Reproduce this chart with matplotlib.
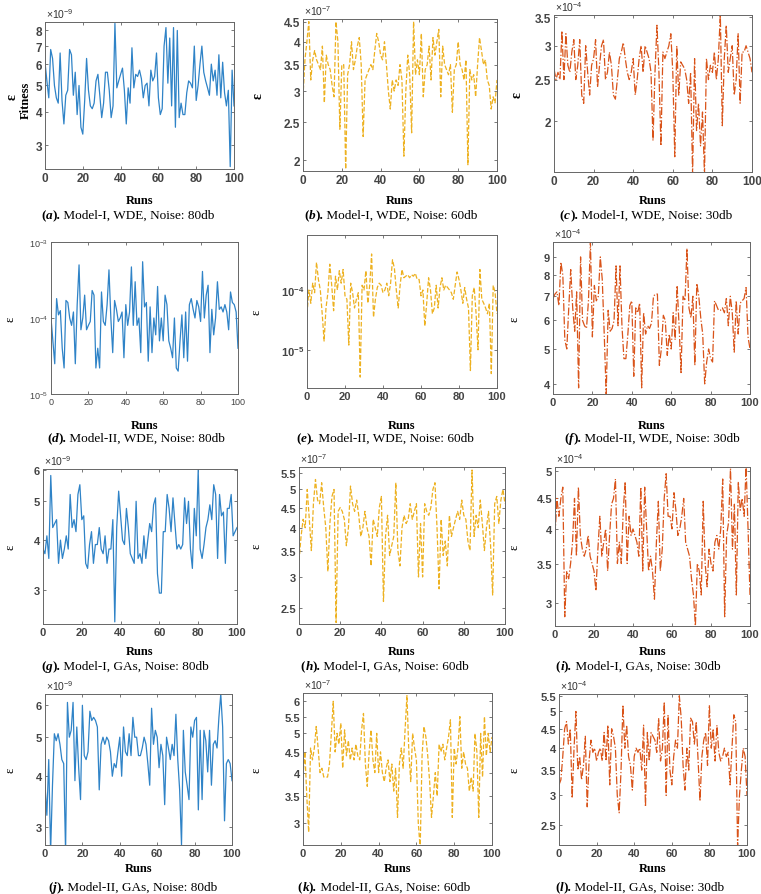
"""
plot.py

Fitness (epsilon) over 100 runs for Model-I / Model-II, WDE / GAs at three noise levels.
"""
import math
import matplotlib
matplotlib.use("Agg")
import matplotlib.pyplot as plt
from matplotlib.ticker import FixedLocator, FixedFormatter, NullLocator

plt.rcParams["mathtext.fontset"] = "custom"
plt.rcParams["mathtext.rm"] = "Liberation Sans"
plt.rcParams["mathtext.bf"] = "Liberation Sans:bold"
plt.rcParams["mathtext.it"] = "Liberation Sans:italic"

########
# Data #
########
runs = list(range(101))

# (a) Model-I, WDE, 80db, x1e-9
a_vals = [6.1, 5.2, 4.5, 6.8, 6.3, 5.0, 4.5, 4.3, 6.6, 4.4,
          3.6, 4.6, 4.8, 6.8, 6.5, 4.6, 5.6, 3.9, 5.0, 3.5,
          3.3, 4.4, 6.3, 4.8, 4.2, 4.1, 4.3, 5.2, 5.5, 4.6,
          3.8, 4.3, 5.6, 5.6, 4.8, 3.8, 4.2, 8.5, 4.9, 5.2,
          5.5, 5.8, 4.8, 3.6, 4.9, 4.3, 6.9, 4.9, 5.5, 5.4,
          5.7, 5.3, 4.5, 5.0, 5.1, 4.2, 5.7, 5.2, 5.4, 6.6,
          4.5, 3.9, 4.1, 7.0, 8.2, 5.1, 7.5, 4.2, 8.2, 3.5,
          8.0, 3.8, 4.3, 3.9, 3.9, 4.7, 5.2, 5.1, 4.9, 7.0,
          4.4, 5.0, 6.0, 7.0, 5.6, 5.2, 4.9, 4.6, 6.0, 5.2,
          5.7, 4.6, 6.5, 4.5, 6.1, 4.7, 4.2, 4.8, 2.5, 5.7,
          4.2]
# (b) Model-I, WDE, 60db, x1e-7
b_vals = [2.9, 3.6, 4.0, 4.5, 3.2, 3.6, 3.8, 3.6, 3.5, 3.4,
          3.9, 2.8, 3.7, 3.5, 3.4, 3.1, 2.9, 4.5, 4.0, 2.4,
          3.5, 3.5, 1.9, 3.3, 3.5, 4.0, 3.4, 3.6, 3.9, 4.1,
          3.5, 2.3, 3.2, 3.3, 3.4, 3.5, 3.4, 3.8, 4.2, 4.0,
          3.7, 3.6, 4.0, 3.5, 3.0, 2.7, 3.2, 3.0, 3.2, 3.1,
          3.5, 3.2, 2.05, 3.0, 3.7, 3.3, 2.35, 4.5, 3.3, 3.6,
          3.3, 4.2, 2.9, 3.4, 3.5, 3.9, 3.2, 4.1, 3.7, 4.0,
          4.3, 2.9, 3.9, 3.5, 3.4, 3.3, 3.5, 2.65, 3.4, 3.5,
          4.0, 3.5, 3.4, 3.2, 3.6, 1.95, 3.4, 3.2, 3.3, 2.9,
          3.5, 4.1, 3.8, 3.5, 3.6, 3.2, 3.1, 2.7, 2.9, 2.8,
          3.2]
# (c) Model-I, WDE, 30db, x1e-4
c_vals = [2.65, 2.5, 2.6, 2.5, 3.25, 2.5, 3.2, 2.7, 2.6, 2.9,
          3.1, 2.5, 2.7, 3.1, 2.3, 2.2, 3.0, 2.6, 2.3, 2.7,
          2.8, 3.1, 2.4, 2.7, 3.0, 3.1, 2.5, 2.6, 2.9, 2.7,
          2.3, 2.25, 2.5, 2.8, 2.9, 3.05, 2.8, 2.6, 2.5, 2.6,
          2.8, 2.3, 2.5, 2.8, 3.0, 2.6, 3.0, 2.9, 2.8, 2.6,
          1.8, 2.6, 3.35, 2.6, 1.75, 2.9, 2.8, 2.9, 3.0, 3.2,
          2.6, 1.65, 3.0, 2.3, 2.75, 2.7, 2.65, 2.5, 2.2, 2.6,
          1.5, 2.8, 1.9, 2.2, 1.75, 2.1, 1.5, 2.8, 2.5, 2.7,
          2.6, 2.9, 2.5, 2.8, 3.55, 1.95, 2.8, 3.35, 2.6, 2.8,
          3.0, 2.3, 2.5, 3.2, 2.2, 2.9, 2.9, 3.0, 2.9, 2.8,
          2.6]
# (d) Model-II, WDE, 80db, x1e-4
d_vals = [1.0, 0.5, 0.25, 1.8, 1.1, 1.25, 0.4, 0.22, 1.7, 1.6,
          1.0, 0.8, 1.2, 0.25, 1.5, 5.0, 0.7, 1.0, 2.0, 0.7,
          0.8, 0.9, 2.3, 2.0, 0.22, 0.4, 0.22, 2.2, 0.9, 0.8,
          1.5, 4.3, 1.0, 0.35, 1.7, 1.3, 0.9, 1.0, 1.2, 0.3,
          1.5, 0.8, 1.2, 4.7, 0.8, 3.0, 0.8, 1.0, 0.35, 5.5,
          1.4, 1.6, 0.27, 1.4, 0.35, 1.0, 0.6, 2.6, 0.5, 1.0,
          0.5, 2.0, 1.5, 0.5, 0.4, 0.3, 1.0, 0.22, 0.2, 0.5,
          1.1, 0.3, 1.2, 0.27, 1.5, 1.8, 1.3, 1.0, 1.7, 1.4,
          0.9, 4.1, 1.0, 2.0, 2.7, 0.35, 1.3, 0.6, 1.0, 3.0,
          1.3, 1.4, 1.2, 1.5, 1.2, 0.7, 2.2, 1.6, 1.5, 1.2,
          0.4]
# (e) Model-II, WDE, 60db, x1e-4
e_vals = [0.4, 1.0, 0.6, 1.3, 0.9, 2.9, 1.5, 1.0, 0.4, 0.14,
          0.5, 0.9, 2.7, 1.2, 0.45, 1.7, 1.0, 2.1, 1.3, 2.2,
          0.8, 0.7, 0.12, 1.3, 0.9, 0.5, 0.7, 0.9, 0.035, 1.2,
          1.0, 2.1, 0.6, 1.2, 4.0, 0.35, 0.7, 1.1, 1.3, 1.2,
          0.9, 1.0, 1.3, 0.8, 1.3, 3.2, 2.3, 1.0, 0.5, 1.2,
          2.2, 1.6, 1.7, 1.8, 1.6, 1.8, 1.7, 1.9, 1.5, 1.5,
          0.8, 1.0, 0.25, 0.6, 1.6, 1.0, 0.4, 0.5, 1.2, 0.5,
          1.1, 1.6, 1.0, 1.2, 1.1, 1.0, 0.9, 0.7, 1.2, 2.0,
          1.5, 1.0, 0.6, 1.1, 0.7, 0.5, 0.045, 0.8, 1.1, 0.4,
          0.1, 2.2, 0.7, 0.6, 0.5, 0.4, 0.6, 0.04, 1.2, 0.9,
          0.4]
# (f) Model-II, WDE, 30db, x1e-4
f_vals = [6.9, 7.1, 7.2, 6.6, 8.7, 8.0, 5.3, 5.0, 6.5, 8.3,
          6.5, 5.6, 7.2, 3.9, 9.0, 6.0, 5.8, 5.7, 6.8, 9.9,
          5.4, 7.5, 6.8, 7.0, 9.0, 7.8, 5.5, 3.75, 6.4, 5.6,
          5.7, 6.0, 8.5, 5.8, 8.5, 5.8, 4.7, 4.7, 5.5, 6.6,
          6.8, 4.2, 6.5, 6.3, 6.7, 3.9, 6.3, 5.5, 5.8, 5.7,
          5.9, 7.0, 7.1, 7.1, 4.5, 5.0, 6.2, 6.0, 4.8, 5.5,
          5.0, 6.3, 5.3, 7.5, 5.8, 4.3, 7.0, 6.8, 9.5, 6.5,
          6.1, 7.0, 4.5, 7.6, 7.0, 6.1, 5.5, 4.0, 4.6, 5.0,
          4.7, 4.6, 6.8, 6.6, 6.4, 6.4, 6.5, 6.3, 6.9, 5.8,
          7.0, 6.3, 4.9, 6.8, 5.5, 6.7, 6.8, 6.9, 7.4, 5.4,
          5.0]
# (g) Model-I, GAs, 80db, x1e-9
g_vals = [3.8, 3.7, 4.1, 3.6, 5.8, 4.3, 4.4, 4.5, 3.5, 4.0,
          3.6, 3.8, 4.1, 3.8, 5.2, 4.3, 4.5, 4.2, 5.2, 5.5,
          4.5, 4.6, 3.5, 3.4, 3.9, 4.2, 3.5, 3.9, 3.9, 4.3,
          3.8, 3.7, 4.1, 3.5, 3.8, 3.8, 4.5, 2.5, 4.3, 5.3,
          4.6, 4.0, 3.9, 4.8, 4.3, 3.7, 3.6, 3.5, 5.0, 3.6,
          3.7, 3.5, 4.1, 3.6, 4.0, 4.4, 4.2, 4.9, 5.1, 3.3,
          2.95, 2.95, 4.2, 4.2, 5.2, 4.8, 4.2, 5.1, 4.4, 3.8,
          3.9, 3.8, 3.9, 5.1, 4.4, 5.0, 3.8, 3.4, 4.8, 4.1,
          6.0, 3.8, 3.6, 3.9, 4.3, 4.5, 4.9, 4.5, 5.5, 5.2,
          3.6, 5.2, 4.6, 4.7, 3.5, 4.8, 4.8, 5.2, 4.1, 4.2,
          4.3]
# (h) Model-I, GAs, 60db, x1e-7
h_vals = [3.3, 3.8, 4.2, 4.0, 5.0, 4.2, 3.5, 4.6, 5.3, 4.7,
          4.6, 5.2, 4.5, 4.0, 3.1, 4.1, 4.8, 5.0, 2.3, 4.4,
          4.5, 4.4, 4.2, 3.6, 4.0, 5.1, 4.6, 4.4, 4.7, 4.3,
          3.8, 4.0, 4.4, 4.0, 3.8, 3.2, 4.2, 4.0, 3.8, 4.5,
          4.8, 2.6, 3.8, 4.3, 3.4, 3.6, 3.8, 5.2, 3.5, 3.2,
          4.0, 4.3, 4.1, 4.2, 4.6, 4.2, 4.4, 4.6, 3.0, 4.1,
          3.0, 4.6, 4.4, 4.3, 4.5, 5.0, 5.2, 4.0, 2.8, 4.2,
          3.4, 3.7, 3.2, 4.3, 3.8, 4.0, 4.2, 4.4, 4.2, 4.7,
          4.3, 4.2, 3.7, 3.5, 5.6, 3.8, 4.3, 4.0, 4.7, 4.1,
          3.5, 4.0, 4.4, 3.6, 2.7, 4.6, 4.8, 4.1, 4.7, 5.0,
          4.6]
# (i) Model-I, GAs, 30db, x1e-4
i_vals = [3.9, 4.5, 4.2, 4.5, 4.7, 2.85, 3.4, 3.3, 3.5, 3.8,
          4.5, 3.6, 4.7, 3.9, 3.7, 3.6, 3.7, 3.9, 3.6, 3.5,
          3.4, 3.15, 3.7, 4.2, 3.6, 3.8, 4.0, 3.4, 3.9, 4.4,
          4.5, 4.85, 3.5, 3.8, 3.5, 4.3, 4.8, 3.5, 4.2, 3.9,
          4.0, 3.9, 3.8, 3.6, 4.7, 3.4, 4.7, 4.0, 3.4, 3.6,
          3.4, 3.05, 3.8, 4.45, 3.4, 3.7, 4.5, 4.95, 4.2, 4.2,
          4.0, 4.6, 4.3, 3.9, 4.0, 4.2, 4.5, 3.8, 3.7, 3.6,
          3.3, 3.1, 2.75, 3.5, 3.4, 3.1, 4.45, 3.5, 3.2, 3.7,
          3.5, 3.4, 3.8, 3.9, 3.7, 4.0, 4.85, 2.85, 3.9, 4.1,
          5.05, 3.7, 4.4, 3.1, 4.8, 4.3, 4.5, 4.2, 5.1, 4.0,
          3.1]
# (j) Model-II, GAs, 80db, x1e-9
j_vals = [3.8, 3.2, 4.4, 2.6, 3.8, 5.1, 4.9, 5.1, 4.8, 4.4,
          4.3, 2.6, 6.1, 5.0, 5.2, 6.1, 3.9, 5.3, 4.2, 3.5,
          6.0, 4.5, 4.4, 4.6, 5.8, 5.5, 5.6, 5.5, 5.3, 3.7,
          4.8, 5.0, 4.8, 5.0, 4.9, 4.6, 4.0, 4.3, 4.2, 4.6,
          5.0, 4.0, 5.3, 4.6, 4.5, 5.1, 4.5, 5.6, 5.0, 5.0,
          4.5, 4.5, 4.7, 5.0, 4.8, 4.3, 3.8, 5.9, 4.8, 5.2,
          5.0, 4.2, 4.8, 4.5, 3.4, 5.0, 4.7, 4.4, 4.8, 4.5,
          5.7, 4.4, 3.7, 2.7, 5.2, 4.1, 3.8, 3.5, 5.3, 5.0,
          5.5, 5.6, 3.3, 5.2, 3.5, 5.2, 4.9, 4.1, 5.2, 3.8,
          4.8, 4.9, 4.7, 5.6, 6.4, 5.3, 3.1, 4.3, 4.4, 4.3,
          3.9]
# (k) Model-II, GAs, 60db, x1e-7
k_vals = [3.9, 4.5, 3.5, 2.85, 4.6, 4.3, 4.6, 5.2, 4.6, 4.0,
          4.1, 3.9, 3.9, 3.9, 4.2, 5.0, 6.0, 4.5, 5.0, 4.7,
          5.3, 4.1, 5.1, 4.4, 4.8, 4.3, 4.6, 4.3, 4.7, 4.4,
          4.3, 5.1, 5.6, 4.2, 3.7, 4.5, 5.1, 4.3, 4.0, 5.0,
          4.0, 4.5, 4.0, 3.8, 4.1, 4.3, 3.8, 4.2, 3.6, 4.1,
          3.1, 4.2, 4.6, 4.1, 5.1, 6.2, 4.5, 3.8, 5.0, 4.6,
          4.3, 3.0, 2.6, 4.4, 5.2, 4.9, 4.4, 3.8, 3.1, 3.5,
          4.0, 3.5, 4.7, 4.5, 4.7, 4.3, 4.6, 4.9, 5.4, 3.1,
          4.6, 4.2, 4.6, 5.5, 4.1, 4.5, 4.2, 4.1, 3.6, 3.9,
          3.6, 5.0, 4.5, 3.1, 5.0, 3.9, 5.5, 4.4, 5.0, 4.5,
          4.9]
# (l) Model-II, GAs, 30db, x1e-4
l_vals = [3.2, 3.3, 3.8, 4.5, 4.7, 4.1, 4.5, 2.95, 4.0, 5.0,
          3.5, 3.8, 3.3, 3.6, 4.3, 2.8, 3.7, 4.2, 3.9, 4.0,
          3.7, 3.9, 4.0, 3.7, 4.4, 3.7, 4.6, 3.2, 4.5, 4.3,
          4.0, 3.0, 2.7, 3.5, 5.2, 4.0, 4.6, 3.8, 3.6, 3.1,
          3.8, 4.0, 3.9, 4.0, 3.5, 4.6, 2.8, 4.4, 3.7, 4.4,
          4.3, 4.2, 3.9, 4.8, 3.7, 4.0, 5.3, 3.0, 4.9, 3.5,
          3.2, 3.8, 4.2, 4.0, 5.5, 4.8, 3.6, 3.1, 4.0, 3.5,
          4.8, 4.7, 4.1, 4.7, 3.7, 2.9, 3.8, 4.2, 4.4, 3.6,
          5.2, 4.0, 4.5, 3.7, 4.6, 3.9, 3.7, 3.8, 4.0, 3.8,
          3.9, 3.2, 4.0, 4.9, 4.7, 2.2, 3.0, 3.5, 4.0, 3.8,
          3.0]

scales = [1e-9, 1e-7, 1e-4, 1e-4, 1e-4, 1e-4, 1e-9, 1e-7, 1e-4, 1e-9, 1e-7, 1e-4]
exponents = ["-9", "-7", "-4", None, None, "-4", "-9", "-7", "-4", "-9", "-7", "-4"]
letters = ["a", "b", "c", "d", "e", "f", "g", "h", "i", "j", "k", "l"]
captions = ["Model-I, WDE, Noise: 80db", "Model-I, WDE, Noise: 60db", "Model-I, WDE, Noise: 30db",
            "Model-II, WDE, Noise: 80db", "Model-II, WDE, Noise: 60db", "Model-II, WDE, Noise: 30db",
            "Model-I, GAs, Noise: 80db", "Model-I, GAs, Noise: 60db", "Model-I, GAs, Noise: 30db",
            "Model-II, GAs, Noise: 80db", "Model-II, GAs, Noise: 60db", "Model-II, GAs, Noise: 30db"]
yticks = [[3, 4, 5, 6, 7, 8], [2, 2.5, 3, 3.5, 4, 4.5], [2, 2.5, 3, 3.5],
          [0.1, 1, 10], [0.1, 1], [4, 5, 6, 7, 8, 9],
          [3, 4, 5, 6], [2.5, 3, 3.5, 4, 4.5, 5, 5.5], [3, 3.5, 4, 4.5, 5],
          [3, 4, 5, 6], [3, 3.5, 4, 4.5, 5, 5.5, 6], [2.5, 3, 3.5, 4, 4.5, 5, 5.5]]
ylims = [(2.45, 8.6), (1.88, 4.57), (1.52, 3.54), (0.1, 10), (0.023, 8.3), (3.75, 9.9),
         (2.47, 6.02), (2.28, 5.7), (2.75, 5.08), (2.7, 6.4), (2.65, 6.29), (2.22, 5.56)]
series = [a_vals, b_vals, c_vals, d_vals, e_vals, f_vals,
          g_vals, h_vals, i_vals, j_vals, k_vals, l_vals]

##########
# Layout #
##########
W, H = 761, 895
# axes boxes in pixels: left, top, right, bottom
boxes = [(45, 23, 234, 170), (303, 20, 497, 172), (554, 16, 752, 173),
         (51, 243, 238, 395), (307, 236, 497, 389), (553, 243, 750, 395),
         (43, 470, 237, 625), (299, 468, 505, 625), (555, 468, 750, 627),
         (45, 695, 232, 846), (303, 694, 492, 846), (559, 695, 747, 846)]
caption_x = [128, 391, 646, 136, 385, 652, 125, 385, 638, 133, 384, 640]
caption_y = [216, 439, 667, 888]
runs_y = [201, 426, 652, 869]
eps_x = [10, 256, 515]
col_colors = ["#2f83c7", "#EDB120", "#D95319"]
col_styles = ["-", "--", "-."]

fig = plt.figure(figsize=(W / 100, H / 100), dpi=100)
renderer = fig.canvas.get_renderer()


def fx(x):
    return x / W


def fy(y):
    return 1 - y / H


def caption(cx, cy, letter, text):
    """Caption like '(a). Model-I ...' with bold parens and bold-italic letter."""
    parts = [("(", "bold", "normal"), (letter, "bold", "italic"),
             (").", "bold", "normal"), (" " + text, "normal", "normal")]
    items = []
    for s, weight, style in parts:
        t = fig.text(0, fy(cy), s, fontsize=9.5, family="Liberation Serif",
                     fontweight=weight, style=style, va="center", ha="left")
        items.append((t, t.get_window_extent(renderer).width))
    total = sum(w for _, w in items)
    x = cx - total / 2
    for t, w in items:
        t.set_x(fx(x))
        x += w


for k in range(12):
    row, col = divmod(k, 3)
    l, t, r, b = boxes[k]
    ax = fig.add_axes([fx(l), fy(b), fx(r - l), (b - t) / H])
    sc = scales[k]
    ax.plot(runs, [v * sc for v in series[k]], color=col_colors[col],
            linestyle=col_styles[col], linewidth=0.9)
    ax.set_yscale("log")
    ax.set_xlim(0, 100)
    ax.set_ylim(ylims[k][0] * sc, ylims[k][1] * sc)

    light = (k == 3)
    weight = "normal" if light else "bold"
    if light:
        tsize = 6.5
    elif row == 0:
        tsize = 8.5
    else:
        tsize = 8
    ticks = [v * sc for v in yticks[k]]
    if exponents[k] is None:
        labels = []
        for v in ticks:
            p = round(math.log10(v))
            labels.append(r"$10^{%d}$" % p if light else r"$\mathbf{10^{%d}}$" % p)
    else:
        labels = [("%g" % v) for v in yticks[k]]
    ax.yaxis.set_major_locator(FixedLocator(ticks))
    ax.yaxis.set_major_formatter(FixedFormatter(labels))
    ax.yaxis.set_minor_locator(NullLocator())
    ax.set_xticks([0, 20, 40, 60, 80, 100])
    for lab in ax.get_xticklabels() + ax.get_yticklabels():
        lab.set_fontweight(weight)
        lab.set_fontsize(tsize)
        lab.set_family("Liberation Sans")
        lab.set_color("#333333")
    ax.tick_params(direction="in", length=2, width=0.5, top=True, right=True,
                   pad=2, colors="#444444")
    for s in ax.spines.values():
        s.set_color("#666666")
        s.set_linewidth(0.7)

    if exponents[k] is not None:
        fig.text(fx(l + 1), fy(t - 2), "\u00d710$^{%s}$" % exponents[k], fontsize=7.5,
                 family="Liberation Sans", color="#333333", ha="left", va="bottom")

    # y label
    ymid = (t + b) / 2
    if row == 0:
        fig.text(fx(eps_x[col] + 2), fy(ymid), "\u03b5", fontsize=10, fontweight="bold",
                 family="Liberation Serif", rotation=90, ha="center", va="center")
    else:
        fig.text(fx(eps_x[col]), fy(ymid), "\u03b5", fontsize=9,
                 family="Liberation Serif", rotation=90, ha="center", va="center")

    # x label and caption
    fig.text(fx((l + r) / 2), fy(runs_y[row]), "Runs", fontsize=9, fontweight="bold",
             family="Liberation Serif", ha="center", va="center")
    caption(caption_x[k], caption_y[row], letters[k], captions[k])

fig.text(fx(26), fy(100), "Fitness", fontsize=9, fontweight="bold",
         family="Liberation Serif", rotation=90, ha="center", va="center")

fig.savefig("out.png", dpi=100)
